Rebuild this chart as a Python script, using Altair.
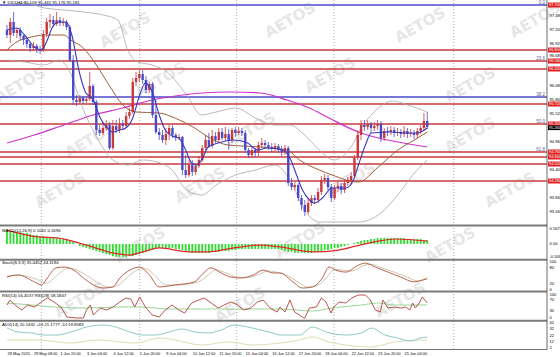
import altair as alt
import pandas as pd

# ---------------- price candles (DXY, H4) ----------------
opens = [97.20,97.10,97.36,97.14,97.20,97.08,97.00,96.92,96.84,96.88,
 96.82,96.80,97.12,97.36,97.40,97.32,97.40,97.34,97.36,97.26,
 96.60,95.80,95.76,95.84,95.78,95.82,96.08,95.76,95.20,95.14,
 95.24,95.30,94.84,95.28,95.20,95.32,95.28,95.48,95.56,96.16,
 96.24,96.32,96.20,96.00,96.12,95.50,95.16,95.10,95.00,95.12,
 95.24,95.10,95.04,95.06,94.40,94.30,94.50,94.36,94.48,94.60,
 94.84,95.00,94.88,95.08,95.00,95.16,95.04,95.12,95.00,95.20,
 95.14,95.18,95.14,94.80,94.70,94.80,94.74,94.90,94.94,94.90,
 94.86,94.82,94.88,94.80,94.76,94.84,94.14,94.06,94.10,93.84,
 93.70,93.56,93.74,93.84,93.80,93.96,94.20,94.24,94.06,93.84,
 94.04,94.08,94.00,94.14,94.20,94.28,94.64,95.10,95.30,95.26,
 95.32,95.24,95.28,95.32,95.04,95.18,95.16,95.20,95.14,95.16,
 95.12,95.18,95.12,95.14,95.10,95.18,95.24,95.38]
highs = [97.30,97.44,97.56,97.24,97.26,97.10,97.04,96.96,96.96,96.92,
 96.88,97.20,97.44,97.52,97.48,97.56,97.46,97.44,97.40,97.30,
 96.70,95.90,95.90,95.88,95.88,96.36,96.12,95.80,95.30,95.36,
 95.40,95.36,95.40,95.40,95.44,95.40,95.56,95.64,96.24,96.36,
 96.40,96.40,96.28,96.16,96.16,95.80,95.24,95.20,95.24,95.30,
 95.30,95.14,95.12,95.08,94.70,94.60,94.60,94.54,94.68,94.90,
 95.10,95.14,95.20,95.16,95.24,95.24,95.26,95.22,95.24,95.26,
 95.26,95.24,95.20,94.84,94.86,94.84,94.96,95.04,95.00,94.96,
 94.94,94.94,94.92,94.88,94.90,94.88,94.24,94.16,94.14,93.90,
 93.80,93.84,93.90,93.90,94.04,94.28,94.32,94.30,94.12,94.10,
 94.16,94.14,94.20,94.26,94.36,94.70,95.20,95.40,95.40,95.40,
 95.36,95.36,95.40,95.38,95.24,95.26,95.28,95.26,95.24,95.22,
 95.28,95.24,95.22,95.20,95.24,95.30,95.54,95.56]
lows = [97.04,96.94,97.08,97.04,97.00,96.90,96.84,96.76,96.78,96.74,
 96.72,96.76,97.06,97.24,97.26,97.28,97.28,97.28,97.20,96.56,
 95.70,95.68,95.72,95.72,95.74,95.78,95.70,95.10,95.08,95.10,
 95.18,94.80,94.80,95.14,95.14,95.20,95.24,95.42,95.52,96.08,
 96.16,96.12,95.94,95.94,95.44,95.12,95.00,94.94,94.90,95.00,
 95.04,94.98,95.00,94.30,94.24,94.26,94.28,94.30,94.44,94.56,
 94.80,94.84,94.84,94.94,94.96,95.00,94.98,94.80,94.94,95.06,
 95.10,95.08,94.74,94.64,94.64,94.66,94.68,94.84,94.84,94.80,
 94.76,94.76,94.74,94.68,94.70,94.08,94.00,94.00,93.78,93.60,
 93.48,93.52,93.68,93.72,93.74,93.90,94.12,94.00,93.76,93.80,
 93.96,93.92,93.94,94.08,94.12,94.24,94.60,95.00,95.18,95.20,
 95.14,95.18,95.20,94.96,94.98,95.08,95.10,95.06,95.08,95.04,
 95.06,95.04,95.06,95.02,95.04,95.12,95.20,95.22]
closes = [97.10,97.36,97.14,97.20,97.08,97.00,96.92,96.84,96.88,96.82,
 96.80,97.12,97.36,97.40,97.32,97.40,97.34,97.36,97.26,96.60,
 95.80,95.76,95.84,95.78,95.82,96.08,95.76,95.20,95.14,95.24,
 95.30,94.84,95.28,95.20,95.32,95.28,95.48,95.56,96.16,96.24,
 96.32,96.20,96.00,96.12,95.50,95.16,95.10,95.00,95.12,95.24,
 95.10,95.04,95.06,94.40,94.30,94.50,94.36,94.48,94.60,94.84,
 95.00,94.88,95.08,95.00,95.16,95.04,95.12,95.00,95.20,95.14,
 95.18,95.14,94.80,94.70,94.80,94.74,94.90,94.94,94.90,94.86,
 94.82,94.88,94.80,94.76,94.84,94.14,94.06,94.10,93.84,93.70,
 93.56,93.74,93.84,93.80,93.96,94.20,94.24,94.06,93.84,94.04,
 94.08,94.00,94.14,94.20,94.28,94.64,95.10,95.30,95.26,95.32,
 95.24,95.28,95.32,95.04,95.18,95.16,95.20,95.14,95.16,95.12,
 95.18,95.12,95.14,95.10,95.18,95.24,95.38,95.26]

date_labels = ["28 May 2015","29 May 08:00","1 Jun 20:00","3 Jun 04:00","4 Jun 12:00",
 "5 Jun 20:00","9 Jun 04:00","10 Jun 12:00","11 Jun 20:00","15 Jun 04:00","16 Jun 12:00",
 "17 Jun 20:00","19 Jun 04:00","22 Jun 12:00","23 Jun 20:00","25 Jun 04:00"]
date_ticks = [0,8,16,24,32,40,48,56,64,72,80,88,96,104,112,120]
grid_bars = [10.4, 40.1, 69.4, 98.8, 135.0]

# moving averages (read at sparse points: bar index, price)
fast_i = [0,3,5.3,8.3,10.4,12.2,13.6,15.7,17.8,19.6,21.7,23.7,26.1,28.2,30.3,32,34.1,35.9,38,40.1,41.8,43.9,46,47.8,49.9,51.9,54,55.8,57.3,58.8,60.8,63.8,68.5,72.7,75.7,78.6,83.4,85.5,87.5,89.3,91.4,92.9,95.3,98.2,102.4,104.7,106.2,108.3,110.1,116,121.1,124,127]
fast_p = [97.20,97.24,97.10,96.86,96.80,97.00,97.24,97.36,97.36,97.10,96.40,95.96,95.80,95.44,95.24,95.16,95.20,95.24,95.44,95.90,96.14,95.96,95.50,95.20,95.08,95.04,94.80,94.54,94.50,94.60,94.86,94.94,95.00,94.94,94.80,94.84,94.80,94.64,94.30,94.00,93.80,93.74,93.84,94.04,94.04,94.20,94.50,94.90,95.14,95.16,95.14,95.14,95.24]
slow_i = [0,2.4,7.4,11.3,17.2,19.3,23.1,27,31.2,35,38.9,46,50.7,56.7,60.8,66.8,76.6,84.6,88.4,94.4,98.2,106.2,112.2,118.1,123.1,127]
slow_p = [96.80,96.94,97.06,97.10,97.10,97.00,96.84,96.50,96.06,95.70,95.56,95.54,95.44,95.24,95.06,94.90,94.86,94.80,94.60,94.40,94.30,94.16,94.46,94.80,95.00,95.16]
long_i = [0,8.3,17.2,26.1,35,43.9,49,58.8,67.7,76.6,84.6,91.4,97.3,106.2,112.2,118.1,127]
long_p = [94.94,95.10,95.30,95.50,95.64,95.80,95.86,95.94,95.96,95.94,95.80,95.64,95.44,95.16,95.04,94.96,94.86]
bbu_i = [0,5.3,11.3,17.2,23.1,29.1,33.5,36.5,39.5,43.9,48.4,54.3,58.8,63.2,69.1,75.1,81,85.5,89.9,94.4,98.8,103.3,107.7,112.2,116.6,121.1,127]
bbu_p = [97.70,97.74,97.64,97.60,97.56,97.50,97.40,96.80,96.56,96.50,96.36,95.90,95.50,95.56,95.64,95.44,95.30,95.30,95.10,94.80,94.60,94.80,95.30,95.64,95.78,95.70,95.56]
bbl_i = [0,5.3,11.3,15.7,18.7,23.1,27.6,32,36.5,41,45.4,49.9,54.3,58.8,63.2,69.1,75.1,81,85.5,89.9,94.4,100.3,106.2,112.2,118.1,122.6,127]
bbl_p = [96.60,96.56,96.50,96.60,96.40,95.60,95.00,94.60,94.50,94.60,94.56,94.40,94.00,93.90,94.10,94.30,94.40,94.50,94.20,93.60,93.36,93.36,93.36,93.50,93.90,94.30,94.60]

# horizontal levels
lvl_price = [97.70,96.80,96.58,96.42,95.86,95.72,95.32,94.76,94.66,94.52,94.18]
lvl_kind = ["blue","red","red","red","blue","red","red","red","red","red","red"]
fib_price = [97.70,96.58,95.86,95.32,94.76]
fib_text = ["0.0","23.6","38.2","50.0","61.8"]
axis_price = [97.485,97.205,96.925,96.685,96.085,95.805,95.525,94.965,94.405,93.845,93.565]
box_price = [97.70,96.80,96.58,96.42,95.72,95.32,94.76,94.66,94.52,94.18]

# MACD histogram (per bar) and signal
macd_hist = [0.49,0.49,0.49,0.46,0.46,0.42,0.42,0.38,0.34,0.34,
 0.30,0.30,0.27,0.27,0.23,0.23,0.23,0.19,0.19,0.15,
 0.08,0.0,-0.08,-0.11,-0.15,-0.19,-0.23,-0.27,-0.30,-0.34,
 -0.38,-0.42,-0.46,-0.49,-0.49,-0.49,-0.49,-0.46,-0.46,-0.42,
 -0.38,-0.34,-0.30,-0.27,-0.23,-0.19,-0.15,-0.15,-0.15,-0.15,
 -0.15,-0.19,-0.19,-0.23,-0.27,-0.30,-0.34,-0.34,-0.34,-0.34,
 -0.34,-0.34,-0.30,-0.30,-0.30,-0.27,-0.27,-0.27,-0.23,-0.23,
 -0.19,-0.19,-0.19,-0.19,-0.19,-0.19,-0.19,-0.19,-0.19,-0.19,
 -0.19,-0.19,-0.19,-0.23,-0.27,-0.30,-0.30,-0.34,-0.34,-0.34,
 -0.34,-0.34,-0.34,-0.30,-0.30,-0.27,-0.23,-0.23,-0.19,-0.15,
 -0.15,-0.11,-0.08,-0.04,0.0,0.04,0.08,0.11,0.15,0.15,
 0.19,0.19,0.23,0.23,0.23,0.23,0.23,0.23,0.23,0.23,
 0.23,0.19,0.19,0.19,0.19,0.19,0.15,0.15]
sig_i = [0,9.2,15.1,24,32,37.1,41,46,54.9,60.8,68.5,76.6,82.5,92.3,100.3,105.3,112.2,117.2,127]
sig_v = [0.53,0.27,0.23,-0.04,-0.34,-0.42,-0.30,-0.15,-0.30,-0.30,-0.15,-0.04,-0.11,-0.30,-0.23,-0.08,0.11,0.19,0.11]

# Stochastic
stk_i = [0,3.3,8.3,10.4,12.2,14.8,17.2,20.2,23.1,26.1,29.1,32,34.1,37.1,40.1,43,46,50.7,56.7,58.8,61.7,64.7,67.7,70.6,74.5,77.4,80.4,82.5,86.4,89.3,92.3,95.3,97.3,99.4,102.4,106.2,108.3,111.3,115.1,119,123.1,124.9,127]
stk_v = [46,54,29,18,43,79,82,71,43,18,7,11,43,71,82,54,11,18,29,54,79,61,46,43,54,71,61,61,29,7,11,43,82,71,64,89,96,82,64,46,29,33,40]
std_i = [0,4,9,12,14,17,19,22,25,28,31,34,37,40,42,45,48,52,58,61,63,66,69,72,76,79,82,85,88,91,94,97,99,101,104,108,110,113,117,121,124,127]
std_v = [50,52,38,24,40,70,78,66,45,22,10,20,52,74,76,48,18,18,30,55,72,62,48,44,55,68,62,50,28,10,18,50,74,72,68,88,92,80,64,46,33,44]

# RSI
rsi_i = [0,0.9,2.4,4.5,6.2,8.3,10.4,12.2,14.2,16.3,18.1,21.1,23.1,24,25.2,26.1,28.2,30,32,34.1,35.9,37.4,38.6,40.1,41.8,43.9,46,47.8,49.9,51.9,53.7,55.8,57.9,59.6,61.7,63.8,65.6,67.7,69.7,71.5,73.6,75.7,77.4,79.5,81.6,82.5,84,85.5,86.9,88.4,89.9,91.4,93.5,95,96.4,97.9,98.8,100.3,102.4,104.2,106.2,108.3,109.8,111.3,112.8,113.6,115.1,117.2,119,120.5,121.7,122.6,123.4,124.6,125.5,127]
rsi_v = [56,76,56,36,56,48,68,84,68,48,8,4,4,36,56,16,44,36,48,68,84,80,48,88,48,16,8,36,56,36,24,64,76,84,64,44,56,68,56,36,44,68,76,44,28,48,28,76,28,16,2,44,48,84,68,24,48,68,64,84,96,96,76,36,28,76,44,48,44,48,36,64,44,64,88,64]
rsi2_i = [0,7.4,14.2,24,34.1,40.1,49,58.8,68.5,82.5,92.3,98.2,107.1,112.2,117.2,127]
rsi2_v = [64,56,48,44,48,48,40,40,40,40,32,44,56,64,56,56]

# ADX
adx_i = [0,3.3,7.4,11.3,15.1,19.3,24,29.1,32.9,37.1,41,44.8,49,52.8,56.7,60.8,64.7,68.5,72.7,76.6,80.4,82.5,88.4,92.3,96.4,102.4,107.1,110.1,114.2,118.1,122,124.9,127]
adx_v = [34,27.6,26,22.8,22.8,27.6,35.6,38.8,35.6,27.6,22.8,22.8,27.6,32.4,27.6,26,30.8,38.8,35.6,30.8,26,22.8,22.8,35.6,27.6,22.8,26,34,22.8,18,13.2,18,19.6]
di_i = [0,9.2,19.3,27,38.9,46,50.7,58.8,66.8,74.5,82.5,88.4,92.3,97.3,102.4,110.1,117.2,127]
di_v = [14.8,14.8,10,14.8,10,18,14.8,6.8,11.6,6.8,10,14.8,19.6,11.6,6.8,3.6,11.6,14.8]

# ---------------- chart ----------------
FONT = "Liberation Sans"
XS = alt.Scale(domain=[-0.6, 165.6], nice=False, zero=False)
date_expr = "[" + ",".join("'%s'" % d for d in date_labels) + "][round(datum.value/8)]"
XAX = alt.Axis(values=date_ticks, labelExpr=date_expr, orient="bottom", labelAlign="left",
               labelBaseline="top", labelFontSize=3.9, labelFont=FONT, labelColor="#000",
               labelPadding=1.5, ticks=False, domain=False, grid=False, title=None,
               labelOverlap=False, labelBound=False, labelFlush=False)

def X(f="i"):
    return alt.X(f"{f}:Q", scale=XS, axis=XAX)

def Y(f, dom, rng):
    return alt.Y(f"{f}:Q", scale=alt.Scale(domain=dom, range=rng, nice=False, zero=False), axis=None)

MAIN = ([93.32, 97.80], [224, 0])
MACD = ([-0.608, 0.646], [260, 227])
STO = ([-7.1, 103.6], [292, 261])
RSI = ([-8, 108], [321, 292])
ADX = ([-1.2, 43.6], [350, 322])

def yM(f): return Y(f, *MAIN)

def line(i, v, panel, color, width=1.0, interp="monotone"):
    df = pd.DataFrame({"i": i, "v": v})
    return alt.Chart(df).mark_line(color=color, strokeWidth=width, interpolate=interp).encode(
        x=X(), y=Y("v", *panel))

layers = []

# watermark
wm = pd.DataFrame({
    "px": [125, 290, 420, 535, 20, 160, 330, 470, 90, 250, 470, 60, 200, 350, 510, 140, 300, 450, 80, 240, 400],
    "py": [30, 20, 25, 20, 85, 80, 75, 85, 140, 130, 135, 190, 185, 180, 190, 245, 240, 245, 300, 305, 300]})
layers.append(alt.Chart(wm).mark_text(text="AETOS", angle=330, fontSize=15, fontWeight="bold",
                                      font="DejaVu Sans", color="#e6e6e6").encode(
    x=alt.X("px:Q", scale=None), y=alt.Y("py:Q", scale=None)))

# vertical grid
layers.append(alt.Chart(pd.DataFrame({"i": grid_bars})).mark_rule(
    color="#888", strokeWidth=0.7, strokeDash=[1, 2]).encode(x=X(), y=alt.value(0), y2=alt.value(350)))

# level lines
lv = pd.DataFrame({"p": lvl_price, "k": lvl_kind})
layers.append(alt.Chart(lv).mark_rule(strokeWidth=1.3).encode(
    y=yM("p"), x=alt.value(0), x2=alt.value(547),
    color=alt.Color("k:N", scale=alt.Scale(domain=["red", "blue"], range=["#c8393b", "#4a4ac8"]), legend=None)))

# bollinger + MAs
layers.append(line(bbu_i, bbu_p, MAIN, "#a8a8a8", 0.8))
layers.append(line(bbl_i, bbl_p, MAIN, "#a8a8a8", 0.8))
layers.append(line(long_i, long_p, MAIN, "#cc33cc", 1.2))
layers.append(line(slow_i, slow_p, MAIN, "#a0603c", 1.0))

# candles
cd = pd.DataFrame({"i": list(range(len(closes))), "o": opens, "h": highs, "l": lows, "c": closes})
cd["dir"] = ["up" if c >= o else "down" for o, c in zip(opens, closes)]
ccol = alt.Color("dir:N", scale=alt.Scale(domain=["up", "down"], range=["#22b222", "#e82020"]), legend=None)
layers.append(alt.Chart(cd).mark_rule(strokeWidth=0.8).encode(x=X(), y=yM("l"), y2="h:Q", color=ccol))
layers.append(alt.Chart(cd).mark_bar(size=2.4).encode(x=X(), y=yM("o"), y2="c:Q", color=ccol))

layers.append(line(fast_i, fast_p, MAIN, "#3a3ac0", 1.1))

# fib labels
fb = pd.DataFrame({"p": fib_price, "t": fib_text})
layers.append(alt.Chart(fb).mark_text(align="right", baseline="bottom", dy=-0.5, fontSize=4.5,
                                      font=FONT, color="#5a5a9a").encode(
    y=yM("p"), x=alt.value(545), text="t:N"))

# right price axis
ap = pd.DataFrame({"p": axis_price, "t": ["%.3f" % v for v in axis_price]})
layers.append(alt.Chart(ap).mark_text(align="left", baseline="middle", fontSize=4.1, font=FONT,
                                      color="#000").encode(y=yM("p"), x=alt.value(549.5), text="t:N"))
bx = pd.DataFrame({"p": box_price, "t": ["%.3f" % v for v in box_price]})
layers.append(alt.Chart(bx).mark_tick(thickness=5, size=14, color="#e02020", opacity=1).encode(
    y=yM("p"), x=alt.value(555)))
layers.append(alt.Chart(bx).mark_text(align="left", baseline="middle", fontSize=4.0, font=FONT,
                                      color="#fff").encode(y=yM("p"), x=alt.value(549), text="t:N"))
cur = pd.DataFrame({"p": [closes[-1]], "t": ["%.3f" % closes[-1]]})
layers.append(alt.Chart(cur).mark_tick(thickness=4.6, size=14, color="#000", opacity=1).encode(
    y=yM("p"), x=alt.value(555), yOffset=alt.value(0.8)))
layers.append(alt.Chart(cur).mark_text(align="left", baseline="middle", fontSize=3.8, font=FONT,
                                      color="#fff", dy=0.8).encode(y=yM("p"), x=alt.value(549), text="t:N"))

# MACD
mh = pd.DataFrame({"i": list(range(len(macd_hist))), "v": macd_hist})
layers.append(alt.Chart(mh).mark_bar(size=1.8, color="#2ee02e").encode(
    x=X(), y=Y("v", *MACD), y2=alt.datum(0)))
layers.append(line(sig_i, sig_v, MACD, "#e02828", 1.2))

# Stoch
layers.append(line(std_i, std_v, STO, "#c9c0a6", 0.9))
layers.append(line(stk_i, stk_v, STO, "#b0503a", 0.9))

# RSI
layers.append(line(rsi2_i, rsi2_v, RSI, "#8fd08f", 0.9))
layers.append(line(rsi_i, rsi_v, RSI, "#b0443a", 0.9, "linear"))

# ADX
layers.append(line(di_i, di_v, ADX, "#ddd6a8", 0.9))
layers.append(line(adx_i, adx_v, ADX, "#8cc8c8", 1.0))

# sub-panel axis labels
sub = pd.DataFrame({
    "t": ["0.5679", "0.00", "-0.509", "100", "80", "20", "0", "100", "70", "30", "0", "42", "32", "22", "12", "2"],
    "py": [229, 244, 257, 262, 267.6, 284.4, 290, 294.5, 300, 311, 318, 323, 329, 335.5, 342, 347.5]})
layers.append(alt.Chart(sub).mark_text(align="left", baseline="middle", fontSize=4.1, font=FONT,
                                       color="#000").encode(
    x=alt.value(549.5), y=alt.Y("py:Q", scale=None), text="t:N"))

# separators / frame
sep = pd.DataFrame({"py": [225.5, 259.8, 291.6, 320.8]})
layers.append(alt.Chart(sep).mark_rule(color="#7a7a7a", strokeWidth=2).encode(
    y=alt.Y("py:Q", scale=None), x=alt.value(0), x2=alt.value(547)))
layers.append(alt.Chart(pd.DataFrame({"py": [349.5]})).mark_rule(color="#555", strokeWidth=0.8).encode(
    y=alt.Y("py:Q", scale=None), x=alt.value(0), x2=alt.value(547)))
layers.append(alt.Chart(pd.DataFrame({"px": [547]})).mark_rule(color="#444", strokeWidth=0.8).encode(
    x=alt.X("px:Q", scale=None), y=alt.value(0), y2=alt.value(350)))

# panel captions
cap = pd.DataFrame({
    "t": ["\u25bc DXY,H4 95.109 95.445 95.176 95.181",
          "MACD(12,26,9) 0.1061 0.1696",
          "Stoch(8,3,3) 35.4452 44.1194",
          "RSI(14) 56.4537  RSI(28) 58.5847",
          "ADX(14) 20.1432 +DI:21.1777 -DI:19.8583"],
    "py": [3, 231, 263, 296, 325]})
layers.append(alt.Chart(cap).mark_text(align="left", baseline="middle", fontSize=4.3, font=FONT,
                                       color="#000").encode(
    x=alt.value(2), y=alt.Y("py:Q", scale=None), text="t:N"))

chart = alt.layer(*layers).resolve_scale(y="independent").properties(
    width=560, height=350,
    autosize=alt.AutoSizeParams(type="none"),
    padding={"left": 0, "top": 0, "right": 0, "bottom": 7},
    background="white",
).configure_view(stroke=None)

chart.save("out.html", embed_options={"renderer": "svg", "actions": False})
